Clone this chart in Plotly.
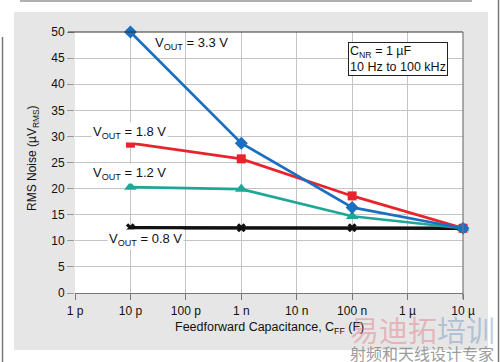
import plotly.graph_objects as go

# ---- data ----
cff = [1e-11, 1e-9, 1e-7, 1e-5]
v33 = [50.0, 28.7, 16.4, 12.4]
v18 = [28.7, 25.7, 18.6, 12.4]
v12 = [20.3, 19.9, 14.7, 12.4]
v08 = [12.5, 12.5, 12.5, 12.4]
tick_vals = [1e-12, 1e-11, 1e-10, 1e-9, 1e-8, 1e-7, 1e-6, 1e-5]
tick_text = ["1 p", "10 p", "100 p", "1 n", "10 n", "100 n", "1 µ", "10 µ"]

W, H = 500, 362
L, R, T, B = 75, 463, 32, 293

def px(x):
    return (x - L) / (R - L)

def py(y):
    return (B - y) / (B - T)

FONT = "Liberation Sans, Arial, sans-serif"
TXT = "#111111"

fig = go.Figure()
series = [
    (v08, "#111111", "x", 8, 3.5),
    (v12, "#1fa796", "triangle-up", 11, 2.7),
    (v18, "#e8232b", "square", 9, 2.7),
    (v33, "#1b6fc0", "diamond", 10, 2.7),
]
for ys, col, sym, ms, lw in series:
    fig.add_trace(go.Scatter(
        x=cff, y=ys, mode="lines+markers",
        line=dict(color=col, width=lw),
        marker=dict(symbol=sym, size=ms, color=col, line=dict(width=0)),
        showlegend=False, cliponaxis=False, hoverinfo="skip"))

gray = "#e6e6e6"
shapes = [
    dict(type="rect", xref="paper", yref="paper", x0=px(14), x1=px(L), y0=py(350), y1=py(12),
         fillcolor=gray, line=dict(width=0), layer="below"),
    dict(type="rect", xref="paper", yref="paper", x0=px(R), x1=px(488), y0=py(350), y1=py(12),
         fillcolor=gray, line=dict(width=0), layer="below"),
    dict(type="rect", xref="paper", yref="paper", x0=px(L), x1=px(R), y0=py(T), y1=py(12),
         fillcolor=gray, line=dict(width=0), layer="below"),
    dict(type="rect", xref="paper", yref="paper", x0=px(L), x1=px(R), y0=py(350), y1=py(B),
         fillcolor=gray, line=dict(width=0), layer="below"),
    dict(type="line", xref="paper", yref="paper", x0=px(68), x1=1, y0=1, y1=1,
         line=dict(color="#333333", width=1.2)),
    dict(type="line", xref="paper", yref="paper", x0=1, x1=1, y0=py(299), y1=1,
         line=dict(color="#777777", width=1.2)),
    dict(type="line", xref="paper", yref="paper", x0=px(20), x1=px(472), y0=py(1), y1=py(1),
         line=dict(color="#b0b0b0", width=2)),
    dict(type="line", xref="paper", yref="paper", x0=px(2.5), x1=px(2.5), y0=py(362), y1=py(37),
         line=dict(color="#777777", width=1.5)),
    dict(type="line", xref="paper", yref="paper", x0=px(498.5), x1=px(498.5), y0=py(362), y1=py(0),
         line=dict(color="#777777", width=1.5)),
]

lab = dict(family=FONT, size=13, color=TXT)
annotations = [
    dict(x=px(153), y=py(43), text="V<sub>OUT</sub> = 3.3 V", xanchor="left", yanchor="middle"),
    dict(x=px(91), y=py(132), text="V<sub>OUT</sub> = 1.8 V", xanchor="left", yanchor="middle",
         bgcolor="white"),
    dict(x=px(91), y=py(174), text="V<sub>OUT</sub> = 1.2 V", xanchor="left", yanchor="middle",
         bgcolor="white"),
    dict(x=px(107), y=py(239), text="V<sub>OUT</sub> = 0.8 V", xanchor="left", yanchor="middle",
         bgcolor="white"),
]
for a in annotations:
    a.update(xref="paper", yref="paper", showarrow=False, font=lab, borderpad=1)

annotations += [
    dict(xref="paper", yref="paper", x=px(348), y=py(42), xanchor="left", yanchor="top",
         text="C<sub>NR</sub> = 1 µF<br>10 Hz to 100 kHz", align="left", showarrow=False,
         font=dict(family=FONT, size=12.5, color=TXT), bgcolor="white",
         bordercolor="#222222", borderwidth=1, borderpad=1),
    dict(xref="paper", yref="paper", x=px(33), y=py(158), text="RMS Noise (µV<sub>RMS</sub>)",
         textangle=-90, showarrow=False, xanchor="center", yanchor="middle",
         font=dict(family=FONT, size=12, color=TXT)),
    dict(xref="paper", yref="paper", x=px(269), y=py(328), text="Feedforward Capacitance, C<sub>FF</sub> (F)",
         showarrow=False, xanchor="center", yanchor="middle",
         font=dict(family=FONT, size=12.5, color=TXT)),
    # watermark
    dict(xref="paper", yref="paper", x=px(422), y=py(329), showarrow=False,
         text="<span style='color:rgba(225,110,125,0.65)'>易迪拓</span>"
              "<span style='color:rgba(105,140,190,0.65)'>培训</span>",
         xanchor="center", yanchor="middle", borderpad=0,
         font=dict(family="Noto Sans CJK SC", size=29, color="rgba(225,110,125,0.65)")),
    dict(xref="paper", yref="paper", x=px(422), y=py(353), text="射频和天线设计专家", showarrow=False,
         xanchor="center", yanchor="middle", borderpad=0,
         font=dict(family="Noto Sans CJK SC", size=16, color="rgba(130,130,130,0.8)")),
]

fig.update_layout(
    width=W, height=H,
    margin=dict(l=L, r=W - R, t=T, b=H - B),
    paper_bgcolor="white", plot_bgcolor="white",
    shapes=shapes, annotations=annotations,
    xaxis=dict(type="log", range=[-12, -5], tickvals=tick_vals, ticktext=tick_text,
               showgrid=True, gridcolor="#c4c4c4", gridwidth=1,
               showline=True, linecolor="#777777", linewidth=1.2,
               ticks="outside", ticklen=6, tickcolor="#777777",
               tickfont=dict(family=FONT, size=12, color=TXT), zeroline=False),
    yaxis=dict(range=[0, 50], dtick=5, tick0=0,
               showgrid=True, gridcolor="#c4c4c4", gridwidth=1,
               showline=False, ticks="outside", ticklen=7, tickcolor="#999999",
               tickfont=dict(family=FONT, size=12, color=TXT), zeroline=False),
)

fig.write_html("out.html", config={"displayModeBar": False, "staticPlot": True},
               post_script="document.body.style.margin='0';document.body.style.overflow='hidden';")
